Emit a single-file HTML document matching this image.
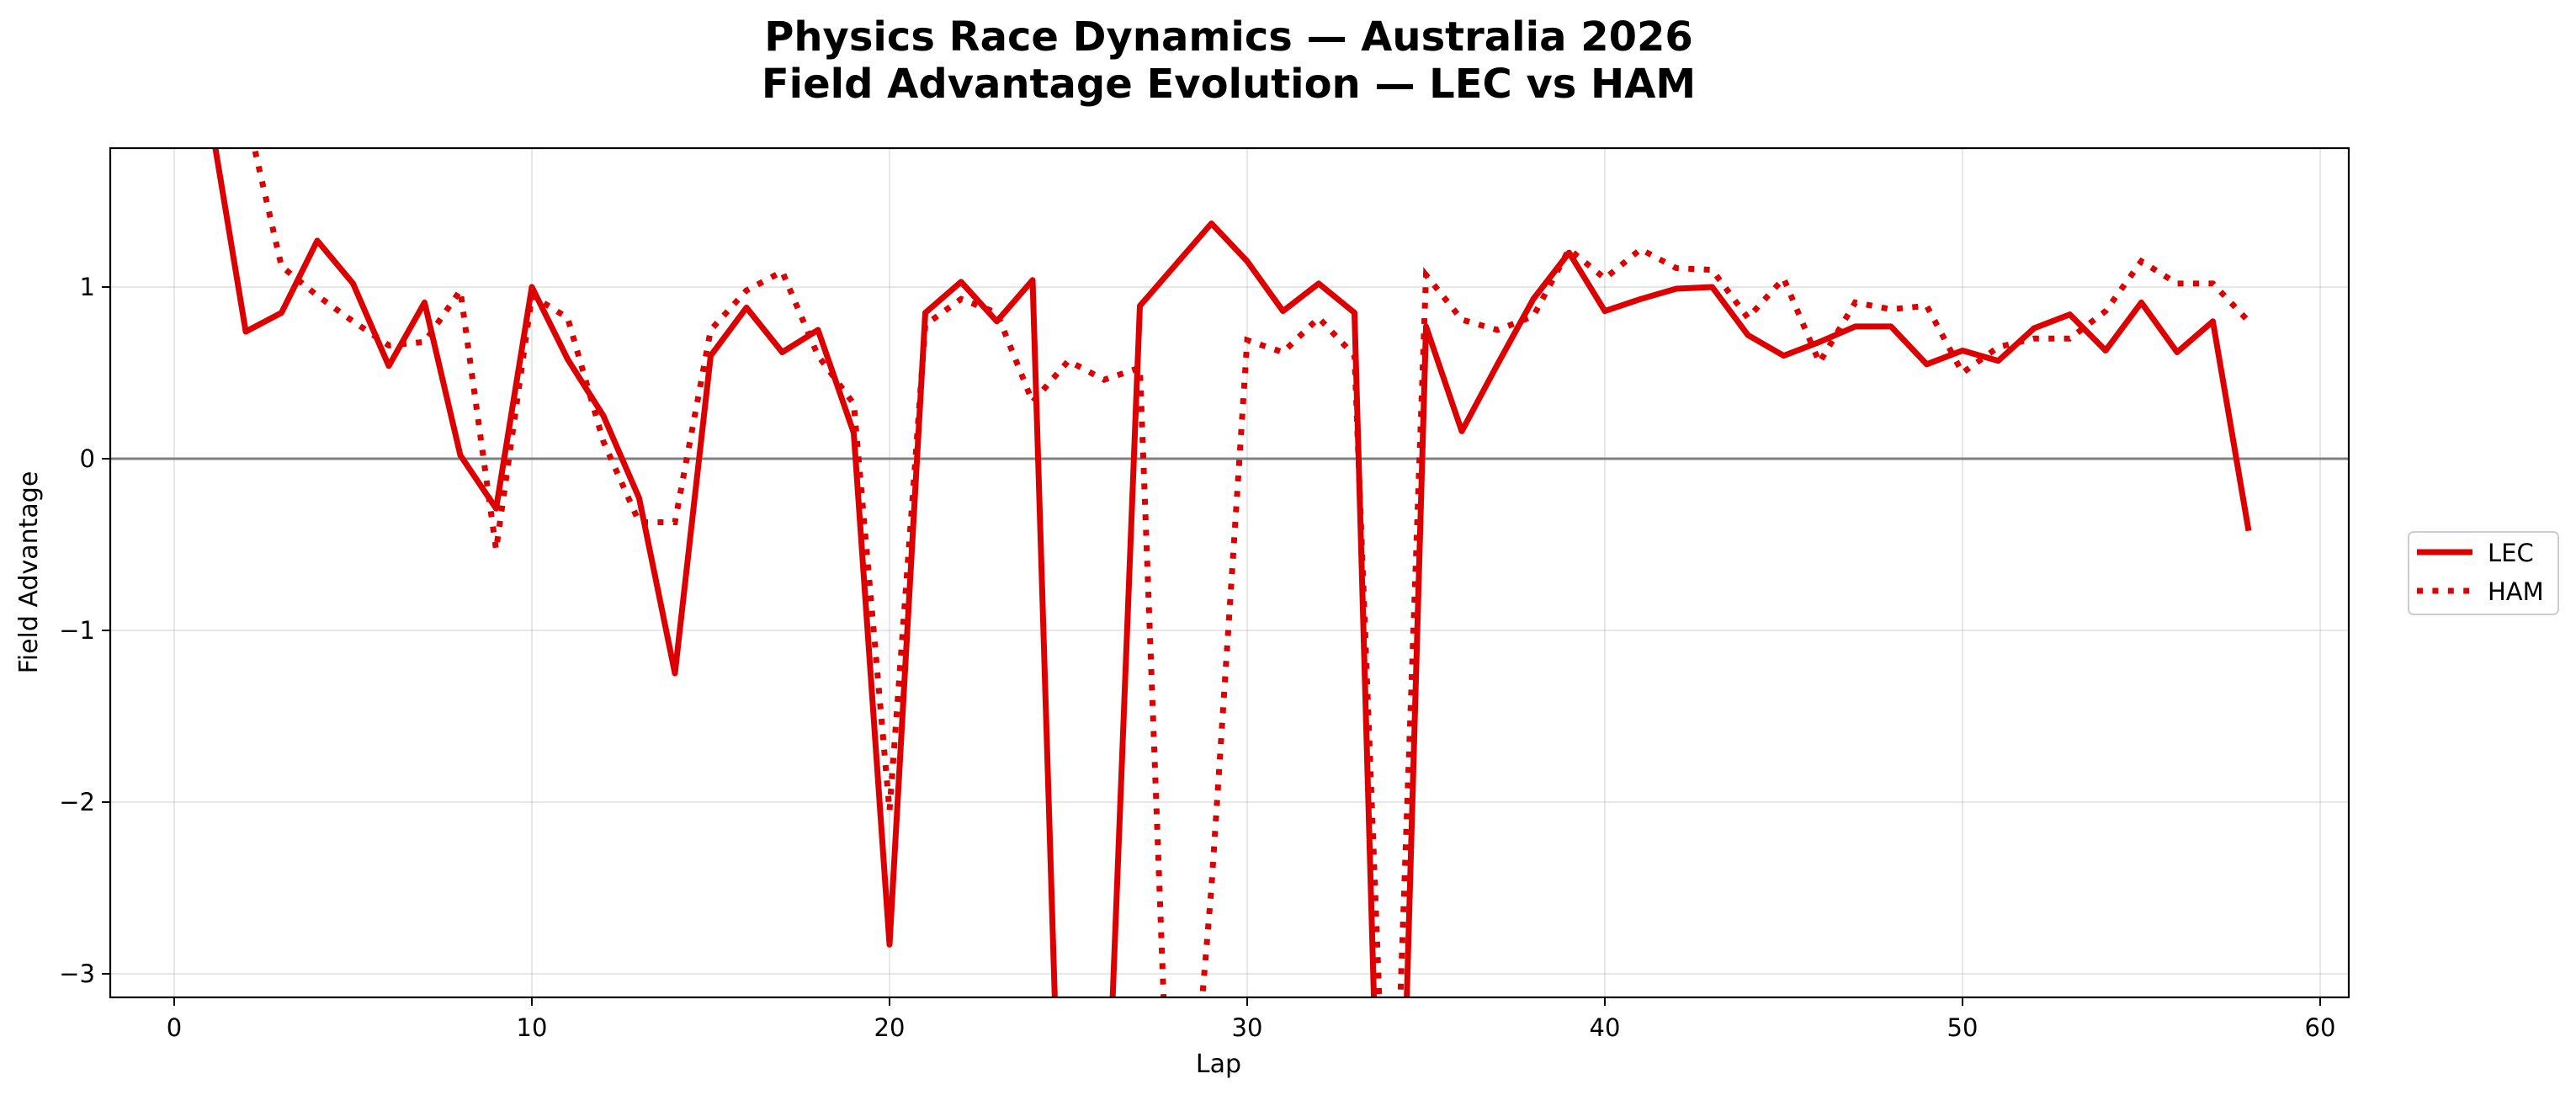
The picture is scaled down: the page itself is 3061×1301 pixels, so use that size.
<!DOCTYPE html>
<html><head><meta charset="utf-8"><style>
html,body{margin:0;padding:0;background:#fff;overflow:hidden;width:3061px;height:1301px;}
svg{display:block;}
svg text{font-family:"DejaVu Sans","Liberation Sans",sans-serif;}
</style></head><body>
<svg id="chart" width="3061" height="1301" viewBox="0 0 3061 1301" xmlns="http://www.w3.org/2000/svg">
<rect width="3061" height="1301" fill="#fff"/>
<text x="1460" y="60" text-anchor="middle" font-size="48" font-weight="bold" fill="#000">Physics Race Dynamics — Australia 2026</text>
<text x="1460" y="116" text-anchor="middle" font-size="48" font-weight="bold" fill="#000">Field Advantage Evolution — LEC vs HAM</text>
<defs><clipPath id="clip"><rect x="131" y="176" width="2660" height="1009"/></clipPath></defs>
<g id="grid"></g>
<g id="ticks"></g>
<g id="series" clip-path="url(#clip)"></g>
<rect x="131" y="176" width="2660" height="1009" fill="none" stroke="#000" stroke-width="2.2"/>
<text x="1448" y="1274" text-anchor="middle" font-size="30">Lap</text>
<text transform="translate(44,680) rotate(-90)" text-anchor="middle" font-size="30">Field Advantage</text>
<g>
<rect x="2862" y="632" width="178" height="98" rx="6" fill="#fff" stroke="#ccc" stroke-width="2"/>
<line x1="2872" y1="656" x2="2938" y2="656" stroke="#dd0000" stroke-width="7"/>
<text x="2956" y="667" font-size="29">LEC</text>
<line x1="2872" y1="702" x2="2938" y2="702" stroke="#dd0000" stroke-width="7" stroke-dasharray="7,11.4"/>
<text x="2956" y="713" font-size="29">HAM</text>
</g>
</svg>
<script>
const laps = [1,2,3,4,5,6,7,8,9,10,11,12,13,14,15,16,17,18,19,20,21,22,23,24,25,26,27,28,29,30,31,32,33,34,35,36,37,38,39,40,41,42,43,44,45,46,47,48,49,50,51,52,53,54,55,56,57,58];
const lecValues = [2.0,0.74,0.85,1.27,1.02,0.54,0.91,0.02,-0.29,1.0,0.58,0.25,-0.23,-1.25,0.6,0.88,0.62,0.75,0.15,-2.83,0.85,1.03,0.8,1.04,-5.7,-4.4,0.89,1.13,1.37,1.15,0.86,1.02,0.85,-6.5,0.77,0.16,0.55,0.93,1.2,0.86,0.93,0.99,1.0,0.72,0.6,0.68,0.77,0.77,0.55,0.63,0.57,0.76,0.84,0.63,0.91,0.62,0.8,-0.42];
const hamValues = [1.82,2.03,1.12,0.95,0.8,0.66,0.68,0.98,-0.53,0.95,0.82,0.1,-0.37,-0.37,0.75,0.98,1.09,0.6,0.32,-2.05,0.78,0.93,0.85,0.33,0.57,0.46,0.53,-5.0,-2.5,0.69,0.62,0.82,0.6,-4.8,1.07,0.81,0.75,0.83,1.22,1.05,1.22,1.11,1.1,0.82,1.05,0.56,0.91,0.87,0.89,0.5,0.65,0.7,0.7,0.86,1.15,1.02,1.02,0.8];
const xTicks = [0,10,20,30,40,50,60];
const yTicks = [-3,-2,-1,0,1];
const yTickLabels = ["\u22123","\u22122","\u22121","0","1"];

const NS="http://www.w3.org/2000/svg";
const X0=207, XPER=42.5, Y0=545, YPER=204;
const L=131,R=2791,T=176,B=1185;
function xs(v){return X0+v*XPER;}
function ys(v){return Y0-v*YPER;}
function mk(tag,attrs,parent){const e=document.createElementNS(NS,tag);for(const k in attrs)e.setAttribute(k,attrs[k]);parent.appendChild(e);return e;}
const grid=document.getElementById('grid'), ticks=document.getElementById('ticks'), series=document.getElementById('series');
xTicks.forEach(t=>{
  const g=mk('line',{x1:xs(t),x2:xs(t),y1:T,y2:B,stroke:'#b0b0b0','stroke-opacity':0.3,'stroke-width':2},grid);
  
  
  const tk=mk('line',{x1:xs(t),x2:xs(t),y1:B,y2:B+10,stroke:'#000','stroke-width':2},ticks);
  
  
  const tl=mk('text',{x:xs(t),y:B+46,'text-anchor':'middle','font-size':29},ticks);
  tl.textContent=t;
  
  
});
yTicks.forEach((t,i)=>{
  const g=mk('line',{x1:L,x2:R,y1:ys(t),y2:ys(t),stroke:'#b0b0b0','stroke-opacity':0.3,'stroke-width':2},grid);
  
  
  const tk=mk('line',{x1:L-10,x2:L,y1:ys(t),y2:ys(t),stroke:'#000','stroke-width':2},ticks);
  
  
  const tl=mk('text',{x:L-18,y:ys(t)+10,'text-anchor':'end','font-size':29},ticks);
  tl.textContent=yTickLabels[i];
  
  
});
const zl=mk('line',{x1:L,x2:R,y1:ys(0),y2:ys(0),stroke:'#808080','stroke-width':3},series);


function pts(vals){return vals.map((v,i)=>xs(laps[i]).toFixed(1)+','+ys(v).toFixed(1)).join(' ');}
const lec=mk('polyline',{points:pts(lecValues),fill:'none',stroke:'#dd0000','stroke-width':7,'stroke-linejoin':'round'},series);


const ham=mk('polyline',{points:pts(hamValues),fill:'none',stroke:'#dd0000','stroke-width':7,'stroke-dasharray':'7,11.4'},series);


</script>
</body></html>
